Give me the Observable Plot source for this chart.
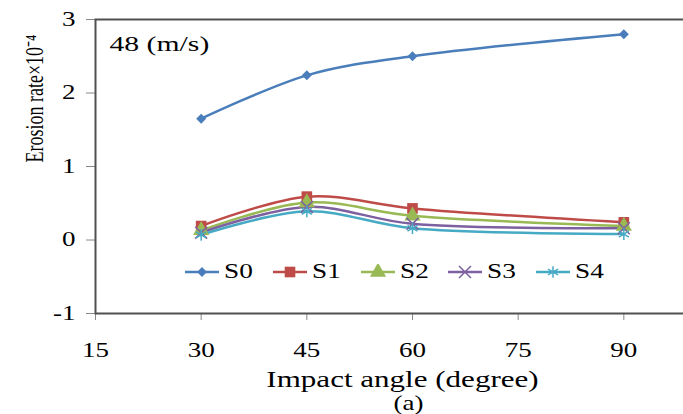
<!DOCTYPE html>
<html><head><meta charset="utf-8">
<script src="https://cdn.jsdelivr.net/npm/d3@7"></script>
<script src="https://cdn.jsdelivr.net/npm/@observablehq/plot@0.6"></script>
<style>
html,body{margin:0;padding:0;background:#fff;overflow:hidden;}
#chart{position:relative;width:683px;height:414px;overflow:hidden;}
#chart > svg{max-width:none !important;width:730px;height:414px;}
#legend{position:absolute;left:185px;top:259px;display:flex;font-family:"Liberation Serif","Times New Roman",serif;font-size:21px;color:#000;}
#legend .item{width:87.75px;display:flex;align-items:center;white-space:nowrap;}
#legend .item span{display:inline-block;transform:scaleX(1.3);transform-origin:left center;margin-left:5px;}
</style></head><body><div id="chart"></div>
<script>
// ---- data ----
const angles = [30, 45, 60, 90];
const seriesNames = ["S0", "S1", "S2", "S3", "S4"];
const S0 = [1.65, 2.24, 2.50, 2.80];
const S1 = [0.19, 0.59, 0.43, 0.24];
const S2 = [0.13, 0.51, 0.33, 0.19];
const S3 = [0.10, 0.45, 0.22, 0.16];
const S4 = [0.07, 0.39, 0.16, 0.08];
const colors = ["#4A7EBB", "#BE4B48", "#98B954", "#7D60A0", "#46AAC5"];
const symbols = ["diamond2", "square", "triangle", "times", "asterisk"];
const xTicks = [15, 30, 45, 60, 75, 90];
const yTicks = [-1, 0, 1, 2, 3];
const speedLabel = "48 (m/s)";
const xTitle = "Impact angle (degree)";
const yTitle = "Erosion rate×10⁻⁴";
const panelLabel = "(a)";

const valuesBySeries = [S0, S1, S2, S3, S4];
const data = [];
seriesNames.forEach((s, i) => angles.forEach((a, j) => data.push({series: s, angle: a, value: valuesBySeries[i][j]})));
const filledSet = new Set(["S0", "S1", "S2"]);

const font = '"Liberation Serif","Times New Roman",serif';
const fmt = d => String(d);

const plot = Plot.plot({
  width: 730,
  height: 414,
  marginLeft: 95,
  marginRight: 1,
  marginTop: 19,
  marginBottom: 101,
  style: {fontFamily: font, fontSize: "20px", background: "#fff", color: "#000", maxWidth: "none"},
  x: {domain: [15, 105]},
  y: {domain: [-1, 3]},
  color: {domain: seriesNames, range: colors},
  symbol: {domain: seriesNames, range: symbols},
  marks: [
    Plot.axisX({ticks: xTicks, tickFormat: fmt, tickSize: 7, tickPadding: 22, label: null, stroke: "#888", fill: "#000", fontSize: 20}),
    Plot.axisY({ticks: yTicks, tickFormat: fmt, tickSize: 9, tickPadding: 11, label: null, stroke: "#888", fill: "#000", fontSize: 20}),
    Plot.frame({stroke: "#505050", strokeWidth: 2}),
    Plot.line(data, {x: "angle", y: "value", z: "series", stroke: "series", strokeWidth: 2.5, curve: "catmull-rom"}),
    Plot.dot(data.filter(d => d.series === "S0"), {x: "angle", y: "value", symbol: "series", fill: "series", r: 4.5}),
    Plot.dot(data.filter(d => d.series === "S1" || d.series === "S2"), {x: "angle", y: "value", symbol: "series", fill: "series", r: 6}),
    Plot.dot(data.filter(d => !filledSet.has(d.series)), {x: "angle", y: "value", symbol: "series", stroke: "series", r: 5.5, strokeWidth: 1.5}),
    Plot.text([speedLabel], {frameAnchor: "top-left", dx: 14, dy: 16, fontSize: 22, textAnchor: "start", lineAnchor: "top"}),
    Plot.text([yTitle], {frameAnchor: "left", rotate: -90, dx: -64, dy: -4, fontSize: 18}),
    Plot.text([xTitle], {frameAnchor: "bottom", dx: -10, dy: 66, fontSize: 23, lineAnchor: "middle"}),
    Plot.text([panelLabel], {frameAnchor: "bottom", dx: -4, dy: 90, fontSize: 20, lineAnchor: "middle"})
  ]
});

const chart = document.getElementById("chart");
chart.appendChild(plot);

// horizontal stretch of text (the reference image is stretched horizontally)
const SX = 1.35;
plot.querySelectorAll("text").forEach(t => {
  const r = t.getBoundingClientRect();
  const anchor = getComputedStyle(t).textAnchor;
  const ax = anchor === "end" ? r.right : anchor === "middle" ? (r.left + r.right) / 2 : r.left;
  const pt = plot.createSVGPoint();
  pt.x = ax; pt.y = r.top;
  const lp = pt.matrixTransform(t.parentNode.getScreenCTM().inverse());
  const g = document.createElementNS("http://www.w3.org/2000/svg", "g");
  g.setAttribute("transform", `translate(${lp.x},0) scale(${SX},1) translate(${-lp.x},0)`);
  t.parentNode.insertBefore(g, t);
  g.appendChild(t);
});

// legend (line + marker + name)
const legend = document.createElement("div");
legend.id = "legend";
const symMap = {diamond2: d3.symbolDiamond2, square: d3.symbolSquare, triangle: d3.symbolTriangle, times: d3.symbolTimes, asterisk: d3.symbolAsterisk};
const legendR = [4.5, 6, 6, 5.5, 5.5];
seriesNames.forEach((s, i) => {
  const item = document.createElement("div");
  item.className = "item";
  const sw = d3.create("svg").attr("width", 34).attr("height", 16);
  sw.append("line").attr("x1", 0).attr("x2", 34).attr("y1", 8).attr("y2", 8).attr("stroke", colors[i]).attr("stroke-width", 2.5);
  const path = sw.append("path").attr("transform", "translate(17,8)").attr("d", d3.symbol(symMap[symbols[i]], Math.PI * legendR[i] * legendR[i])());
  if (filledSet.has(s)) path.attr("fill", colors[i]); else path.attr("fill", "none").attr("stroke", colors[i]).attr("stroke-width", 1.5);
  item.appendChild(sw.node());
  const span = document.createElement("span");
  span.textContent = s;
  item.appendChild(span);
  legend.appendChild(item);
});
chart.appendChild(legend);
</script>
</body></html>
